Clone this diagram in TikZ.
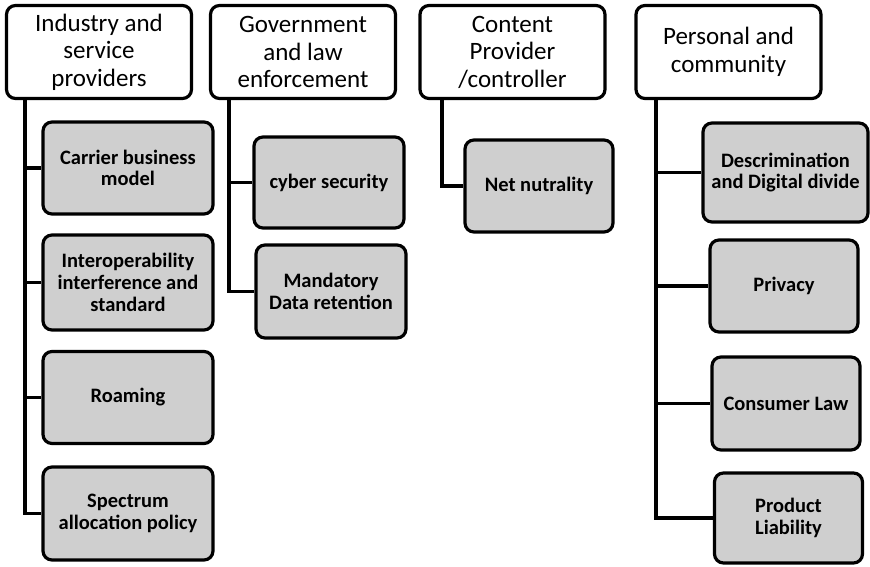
\documentclass[tikz,border=0pt]{standalone}
\usepackage{fontspec}
\setmainfont{Carlito}
\usetikzlibrary{positioning}
\definecolor{boxgray}{RGB}{207,207,207}
\tikzset{
    headbox/.style={rectangle, draw, line width=3.2pt, fill=white, rounded corners=9pt, align=center, minimum width=185pt, minimum height=93pt, font=\fontsize{25}{27.5}\selectfont},
    itembox/.style={rectangle, draw, line width=3.2pt, fill=boxgray, rounded corners=9pt, align=center, minimum width=150pt, minimum height=92pt, inner sep=2pt, font=\bfseries\fontsize{20.5}{21.7}\selectfont},
    branch/.style={draw, line width=3.2pt},
}

\begin{document}
\begin{tikzpicture}[x=1pt, y=-1pt]

    \useasboundingbox (0,0) rectangle (870,566);

    % Headers
    \node[headbox] (ind) at (99, 52) {Industry and\\service\\providers};
    \node[headbox] (gov) at (303, 52) {Government\\and law\\enforcement};
    \node[headbox] (cont) at (512.5, 52) {Content\\Provider\\/controller};
    \node[headbox] (pers) at (728.5, 52) {Personal and\\community};

    % Trunk start points
    \coordinate (ind_trunk) at (25, 98);
    \coordinate (gov_trunk) at (229, 98);
    \coordinate (cont_trunk) at (442, 98);
    \coordinate (pers_trunk) at (656, 98);

    % Industry and service providers
    \node[itembox, minimum width=170pt] (carrier) at (128, 168) {Carrier business\\model};
    \node[itembox, minimum width=170pt, minimum height=95pt] (interop) at (128, 282.5) {Interoperability\\interference and\\standard};
    \node[itembox, minimum width=170pt] (roam) at (128, 397.5) {Roaming};
    \node[itembox, minimum width=170pt, minimum height=93pt] (spect) at (128, 513.5) {Spectrum\\allocation policy};

    % Government and law enforcement
    \node[itembox, minimum height=91pt] (cyber) at (329, 182.5) {cyber security};
    \node[itembox, minimum height=93pt] (mand) at (331, 291.5) {Mandatory\\Data retention};

    % Content provider
    \node[itembox, minimum width=148pt] (net) at (539, 186) {Net nutrality};

    % Personal and community
    \node[itembox, minimum width=165pt, minimum height=99pt] (disc) at (785.5, 172.5) {Descrimination\\and Digital divide};
    \node[itembox, minimum width=148pt] (priv) at (784, 286) {Privacy};
    \node[itembox, minimum width=148pt, minimum height=93pt] (cons) at (786, 403.5) {Consumer Law};
    \node[itembox, minimum width=148pt, minimum height=90pt] (prod) at (788.5, 518) {Product\\Liability};

    % Branches
    \draw[branch] (ind_trunk) |- (spect.west);
    \draw[branch] (ind_trunk) |- (carrier.west);
    \draw[branch] (ind_trunk) |- (interop.west);
    \draw[branch] (ind_trunk) |- (roam.west);

    \draw[branch] (gov_trunk) |- (mand.west);
    \draw[branch] (gov_trunk) |- (cyber.west);

    \draw[branch] (cont_trunk) |- (net.west);

    \draw[branch] (pers_trunk) |- (prod.west);
    \draw[branch] (pers_trunk) |- (disc.west);
    \draw[branch] (pers_trunk) |- (priv.west);
    \draw[branch] (pers_trunk) |- (cons.west);

\end{tikzpicture}
\end{document}
